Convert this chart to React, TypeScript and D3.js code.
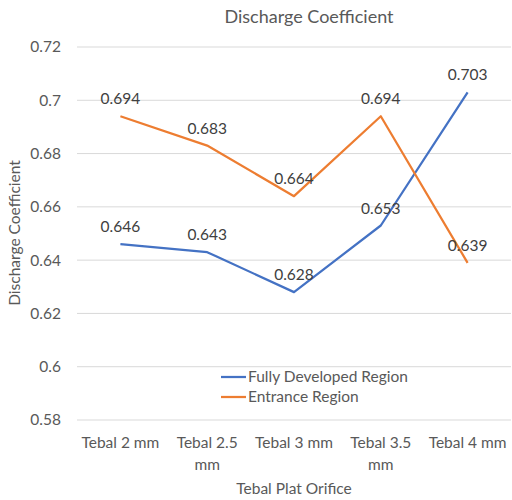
import React, { useEffect, useRef } from 'react';
import * as d3 from 'd3';

const categories = ['Tebal 2 mm', 'Tebal 2.5 mm', 'Tebal 3 mm', 'Tebal 3.5 mm', 'Tebal 4 mm'];
const fullyDeveloped = [0.646, 0.643, 0.628, 0.653, 0.703];
const entrance = [0.694, 0.683, 0.664, 0.694, 0.639];
const yTicks = [0.58, 0.6, 0.62, 0.64, 0.66, 0.68, 0.7, 0.72];
const seriesNames = ['Fully Developed Region', 'Entrance Region'];
const colors = ['#4472C4', '#ED7D31'];

function App() {
    const ref = useRef<SVGSVGElement>(null);

    useEffect(() => {
        const svg = d3.select(ref.current);
        svg.selectAll('*').remove();

        const font = 'Lato, "Open Sans", sans-serif';
        const textColor = '#595959';

        const x = d3.scaleBand().domain(categories).range([77, 511]);
        const y = d3.scaleLinear().domain([0.58, 0.72]).range([420, 47]);

        // gridlines
        svg.append('g')
            .selectAll('line')
            .data(yTicks)
            .enter()
            .append('line')
            .attr('x1', 77)
            .attr('x2', 511)
            .attr('y1', d => y(d))
            .attr('y2', d => y(d))
            .attr('stroke', '#D9D9D9')
            .attr('stroke-width', 1);

        // y tick labels
        svg.append('g')
            .selectAll('text')
            .data(yTicks)
            .enter()
            .append('text')
            .attr('x', 61)
            .attr('y', d => y(d))
            .attr('dy', '0.35em')
            .attr('text-anchor', 'end')
            .style('font-family', font)
            .style('font-size', '15.5px')
            .style('fill', textColor)
            .text(d => String(+d.toFixed(2)));

        // x tick labels (wrap long ones like Excel)
        const xl = svg.append('g');
        categories.forEach(c => {
            const cx = (x(c) as number) + x.bandwidth() / 2;
            const parts = c.split(' ');
            const lines = c.length > 10 ? [parts.slice(0, 2).join(' '), parts.slice(2).join(' ')] : [c];
            lines.forEach((ln, i) => {
                xl.append('text')
                    .attr('x', cx)
                    .attr('y', 448 + i * 22)
                    .attr('text-anchor', 'middle')
                    .style('font-family', font)
                    .style('font-size', '15.5px')
                    .style('fill', textColor)
                    .text(ln);
            });
        });

        const line = d3.line<number>()
            .x((d, i) => (x(categories[i]) as number) + x.bandwidth() / 2)
            .y(d => y(d));

        [fullyDeveloped, entrance].forEach((s, k) => {
            svg.append('path')
                .datum(s)
                .attr('d', line)
                .attr('fill', 'none')
                .attr('stroke', colors[k])
                .attr('stroke-width', 2.25)
                .attr('stroke-linejoin', 'round');

            svg.append('g')
                .selectAll('text')
                .data(s)
                .enter()
                .append('text')
                .attr('x', (d, i) => (x(categories[i]) as number) + x.bandwidth() / 2)
                .attr('y', d => y(d) - 12)
                .attr('text-anchor', 'middle')
                .style('font-family', font)
                .style('font-size', '15.5px')
                .style('fill', '#404040')
                .text(d => d.toFixed(3));
        });

        // legend
        const lg = svg.append('g');
        seriesNames.forEach((n, i) => {
            const ly = 377 + i * 20;
            lg.append('line')
                .attr('x1', 221).attr('x2', 246)
                .attr('y1', ly).attr('y2', ly)
                .attr('stroke', colors[i])
                .attr('stroke-width', 2.25);
            lg.append('text')
                .attr('x', 248)
                .attr('y', ly)
                .attr('dy', '0.35em')
                .style('font-family', font)
                .style('font-size', '15.5px')
                .style('fill', textColor)
                .text(n);
        });

        // title
        svg.append('text')
            .attr('x', 309)
            .attr('y', 23)
            .attr('text-anchor', 'middle')
            .style('font-family', font)
            .style('font-size', '18px')
            .style('fill', textColor)
            .text('Discharge Coefficient');

        // axis titles
        svg.append('text')
            .attr('x', 294)
            .attr('y', 494)
            .attr('text-anchor', 'middle')
            .style('font-family', font)
            .style('font-size', '15.5px')
            .style('fill', textColor)
            .text('Tebal Plat Orifice');

        svg.append('text')
            .attr('transform', 'translate(20, 233) rotate(-90)')
            .attr('text-anchor', 'middle')
            .style('font-family', font)
            .style('font-size', '15.5px')
            .style('fill', textColor)
            .text('Discharge Coefficient');
    }, []);

    return (
        <svg ref={ref} width={512} height={500} style={{ position: 'absolute', left: 0, top: 0, background: '#fff' }}></svg>
    );
}

export default App;
